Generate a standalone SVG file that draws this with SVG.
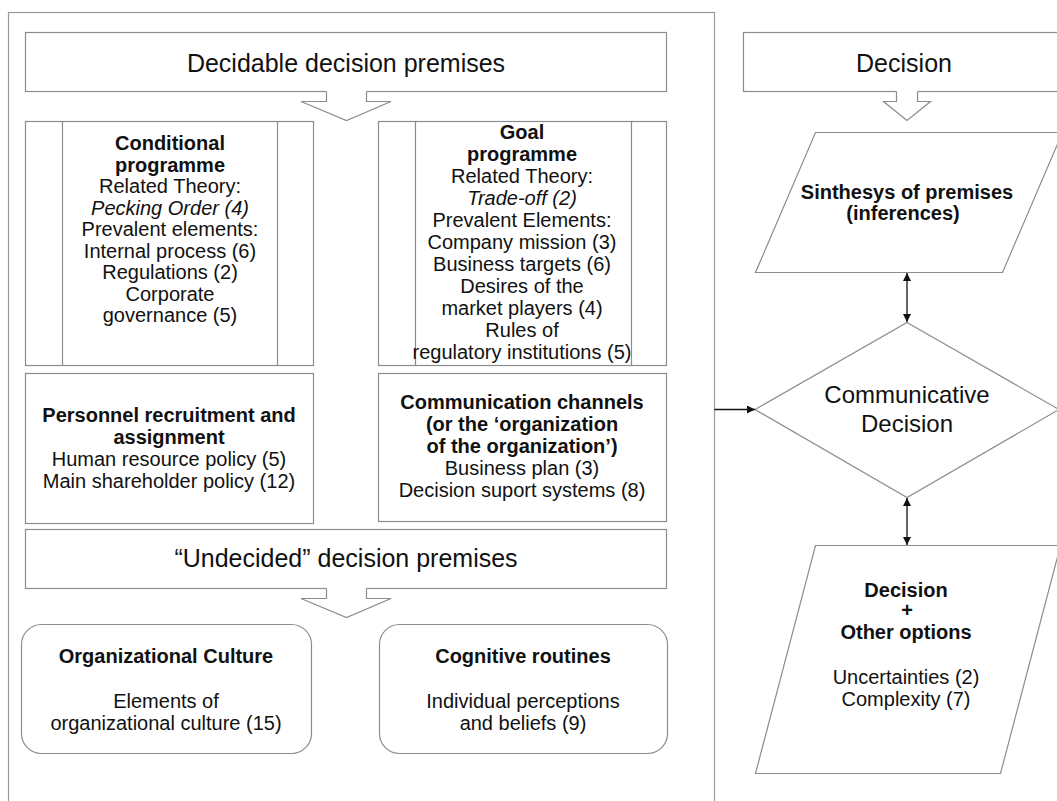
<svg xmlns="http://www.w3.org/2000/svg" width="1057" height="801" viewBox="0 0 1057 801">
<defs>
<style>
.box{fill:#fff;stroke:#8c8c8c;stroke-width:1.2}
.frame{fill:none;stroke:#9a9a9a;stroke-width:1.2}
.inner{stroke:#8c8c8c;stroke-width:1.2;fill:none}
.blk{fill:#fff;stroke:#8c8c8c;stroke-width:1.2}
.con{stroke:#111;stroke-width:1.3;fill:none}
text{font-family:"Liberation Sans",Arial,sans-serif;fill:#111;text-anchor:middle}
.t{font-size:20px}
.b{font-size:20px;font-weight:bold}
.i{font-size:20px;font-style:italic}
.h{font-size:25px}
</style>
<marker id="ah" viewBox="0 0 10 10" refX="10" refY="5" markerWidth="8" markerHeight="8" markerUnits="userSpaceOnUse" orient="auto-start-reverse">
<path d="M0,0 L10,5 L0,10 z" fill="#111"/>
</marker>
</defs>
<rect width="1057" height="801" fill="#fff"/>

<rect id="container" class="frame" x="8.5" y="12.5" width="706" height="800"/>

<g id="decidable">
<rect class="box" x="25.5" y="32.5" width="641" height="59"/>
<text class="h" x="346" y="72">Decidable decision premises</text>
</g>

<g id="conditional">
<rect class="box" x="25.5" y="121.5" width="288" height="244"/>
<line class="inner" x1="62.5" y1="121.5" x2="62.5" y2="365.5"/>
<line class="inner" x1="277.5" y1="121.5" x2="277.5" y2="365.5"/>
<text class="b" x="170" y="150">Conditional</text>
<text class="b" x="170" y="171.5">programme</text>
<text class="t" x="170" y="193">Related Theory:</text>
<text class="i" x="170" y="214.5">Pecking Order (4)</text>
<text class="t" x="170" y="236">Prevalent elements:</text>
<text class="t" x="170" y="257.5">Internal process (6)</text>
<text class="t" x="170" y="279">Regulations (2)</text>
<text class="t" x="170" y="300.5">Corporate</text>
<text class="t" x="170" y="322">governance (5)</text>
</g>

<g id="goal">
<rect class="box" x="378.5" y="121.5" width="288" height="244"/>
<line class="inner" x1="415.5" y1="121.5" x2="415.5" y2="365.5"/>
<line class="inner" x1="631.5" y1="121.5" x2="631.5" y2="365.5"/>
<text class="b" x="522" y="139">Goal</text>
<text class="b" x="522" y="161">programme</text>
<text class="t" x="522" y="183">Related Theory:</text>
<text class="i" x="522" y="205">Trade-off (2)</text>
<text class="t" x="522" y="227">Prevalent Elements:</text>
<text class="t" x="522" y="249">Company mission (3)</text>
<text class="t" x="522" y="271">Business targets (6)</text>
<text class="t" x="522" y="293">Desires of the</text>
<text class="t" x="522" y="315">market players (4)</text>
<text class="t" x="522" y="337">Rules of</text>
<text class="t" x="522" y="359">regulatory institutions (5)</text>
</g>

<g id="personnel">
<rect class="box" x="25.5" y="373.5" width="288" height="150"/>
<text class="b" x="169" y="422">Personnel recruitment and</text>
<text class="b" x="169" y="444">assignment</text>
<text class="t" x="169" y="466">Human resource policy (5)</text>
<text class="t" x="169" y="488">Main shareholder policy (12)</text>
</g>

<g id="communication">
<rect class="box" x="378.5" y="373.5" width="288" height="148"/>
<text class="b" x="522" y="409">Communication channels</text>
<text class="b" x="522" y="431">(or the ‘organization</text>
<text class="b" x="522" y="453">of the organization’)</text>
<text class="t" x="522" y="475">Business plan (3)</text>
<text class="t" x="522" y="497">Decision suport systems (8)</text>
</g>

<g id="undecided">
<rect class="box" x="25.5" y="529.5" width="641" height="59"/>
<text class="h" x="346" y="567">“Undecided” decision premises</text>
</g>

<g id="culture">
<rect class="box" x="21.5" y="624.5" width="290" height="129" rx="20" ry="20"/>
<text class="b" x="166" y="663">Organizational Culture</text>
<text class="t" x="166" y="708">Elements of</text>
<text class="t" x="166" y="730">organizational culture (15)</text>
</g>

<g id="cognitive">
<rect class="box" x="379.5" y="624.5" width="288" height="129" rx="20" ry="20"/>
<text class="b" x="523" y="663">Cognitive routines</text>
<text class="t" x="523" y="708">Individual perceptions</text>
<text class="t" x="523" y="730">and beliefs (9)</text>
</g>

<g id="decision">
<rect class="box" x="743.5" y="32.5" width="322" height="59"/>
<text class="h" x="904" y="72">Decision</text>
</g>

<g id="synthesis">
<polygon class="box" points="815.5,132.5 1062.5,132.5 1002.5,272.5 755.5,272.5"/>
<text class="b" x="907" y="199">Sinthesys of premises</text>
<text class="b" x="903" y="220">(inferences)</text>
</g>

<g id="communicative">
<polygon class="box" points="907,322.5 1059,409.5 907,497.5 755,409.5"/>
<text class="h" x="907" y="403" style="font-size:24px">Communicative</text>
<text class="h" x="907" y="432" style="font-size:24px">Decision</text>
</g>

<g id="options">
<polygon class="box" points="815.5,545.5 1060.5,545.5 1000.5,773.5 755.5,773.5"/>
<text class="b" x="906" y="597">Decision</text>
<text class="b" x="907" y="617">+</text>
<text class="b" x="906" y="639">Other options</text>
<text class="t" x="906" y="684">Uncertainties (2)</text>
<text class="t" x="906" y="706">Complexity (7)</text>
</g>

<g id="connectors">
<polygon fill="#fff" points="326.5,90 366.5,90 366.5,101.5 391,101.5 346.5,120.5 301,101.5 326.5,101.5"/>
<polyline class="blk" fill="none" points="326.5,91.5 326.5,101.5 301,101.5 346.5,120.5 391,101.5 366.5,101.5 366.5,91.5"/>
<polygon fill="#fff" points="326.5,587 366.5,587 366.5,598.5 391,598.5 346.5,617.5 301,598.5 326.5,598.5"/>
<polyline class="blk" fill="none" points="326.5,588.5 326.5,598.5 301,598.5 346.5,617.5 391,598.5 366.5,598.5 366.5,588.5"/>
<polygon fill="#fff" points="896.5,90 917.5,90 917.5,101.5 930.5,101.5 907,120.5 883.5,101.5 896.5,101.5"/>
<polyline class="blk" fill="none" points="896.5,91.5 896.5,101.5 883.5,101.5 907,120.5 930.5,101.5 917.5,101.5 917.5,91.5"/>
<line class="con" x1="714.5" y1="409.5" x2="755" y2="409.5" marker-end="url(#ah)"/>
<line class="con" x1="907" y1="273" x2="907" y2="322" marker-start="url(#ah)" marker-end="url(#ah)"/>
<line class="con" x1="907" y1="498" x2="907" y2="545" marker-start="url(#ah)" marker-end="url(#ah)"/>
</g>
</svg>
